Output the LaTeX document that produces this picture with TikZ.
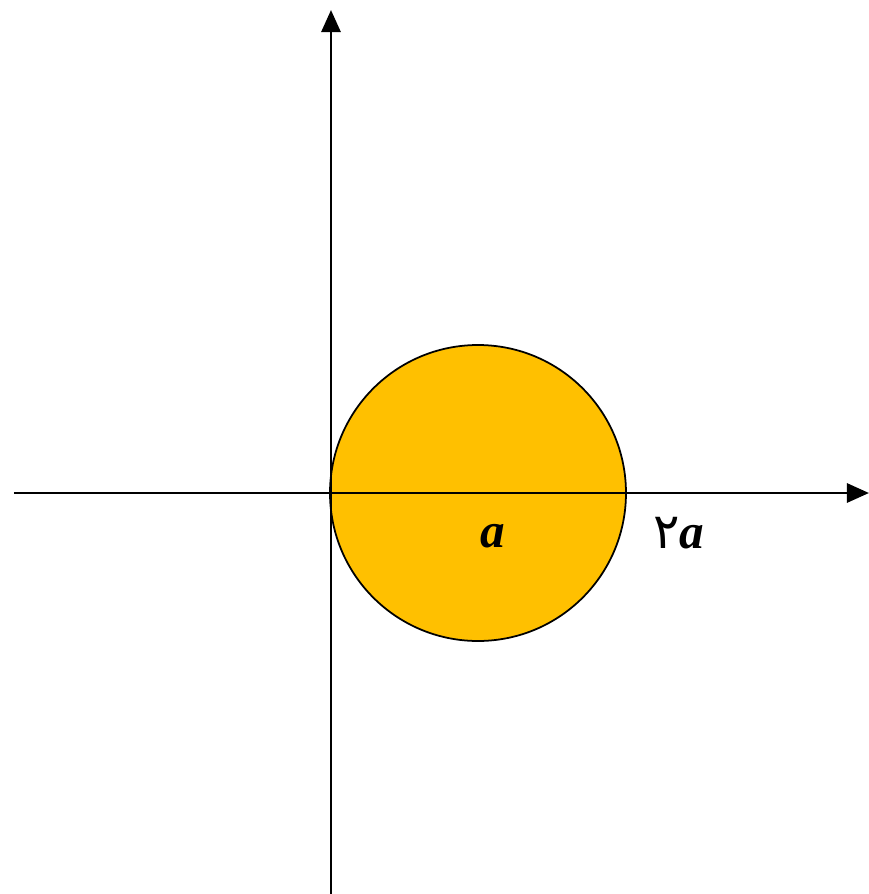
\documentclass[tikz,border=0pt]{standalone}
\usepackage{fontspec}
\setmainfont{Liberation Serif}
\newfontfamily\arabicfont[Script=Arabic]{DejaVu Sans}
\usetikzlibrary{arrows.meta}
\definecolor{diskfill}{HTML}{FFC000}

\begin{document}
\begin{tikzpicture}[
  axis/.style={-{Triangle[length=2.2mm,width=1.9mm]}, line width=0.8pt},
  disk/.style={draw, line width=0.5pt, fill=diskfill},
  lbl/.style={font=\fontsize{14}{16}\selectfont\bfseries\itshape, inner sep=0pt}
]
\useasboundingbox (-3.31,-4.01) rectangle (5.38,4.93);

% axes end points
\coordinate (xl) at (-3.17,0);
\coordinate (xr) at (5.38,0);
\coordinate (yb) at (0,-4.01);
\coordinate (yt) at (0,4.83);
\coordinate (O) at (1.47,0);

\draw[disk] (O) circle (1.48);
\draw[axis] (xl) -- (xr);
\draw[axis] (yb) -- (yt);

\node[lbl] (la) at (1.62,-0.43) {a};
\node[lbl] (l2a) at (3.48,-0.40) {{\arabicfont\mdseries\upshape ۲}a};

\end{tikzpicture}
\end{document}
